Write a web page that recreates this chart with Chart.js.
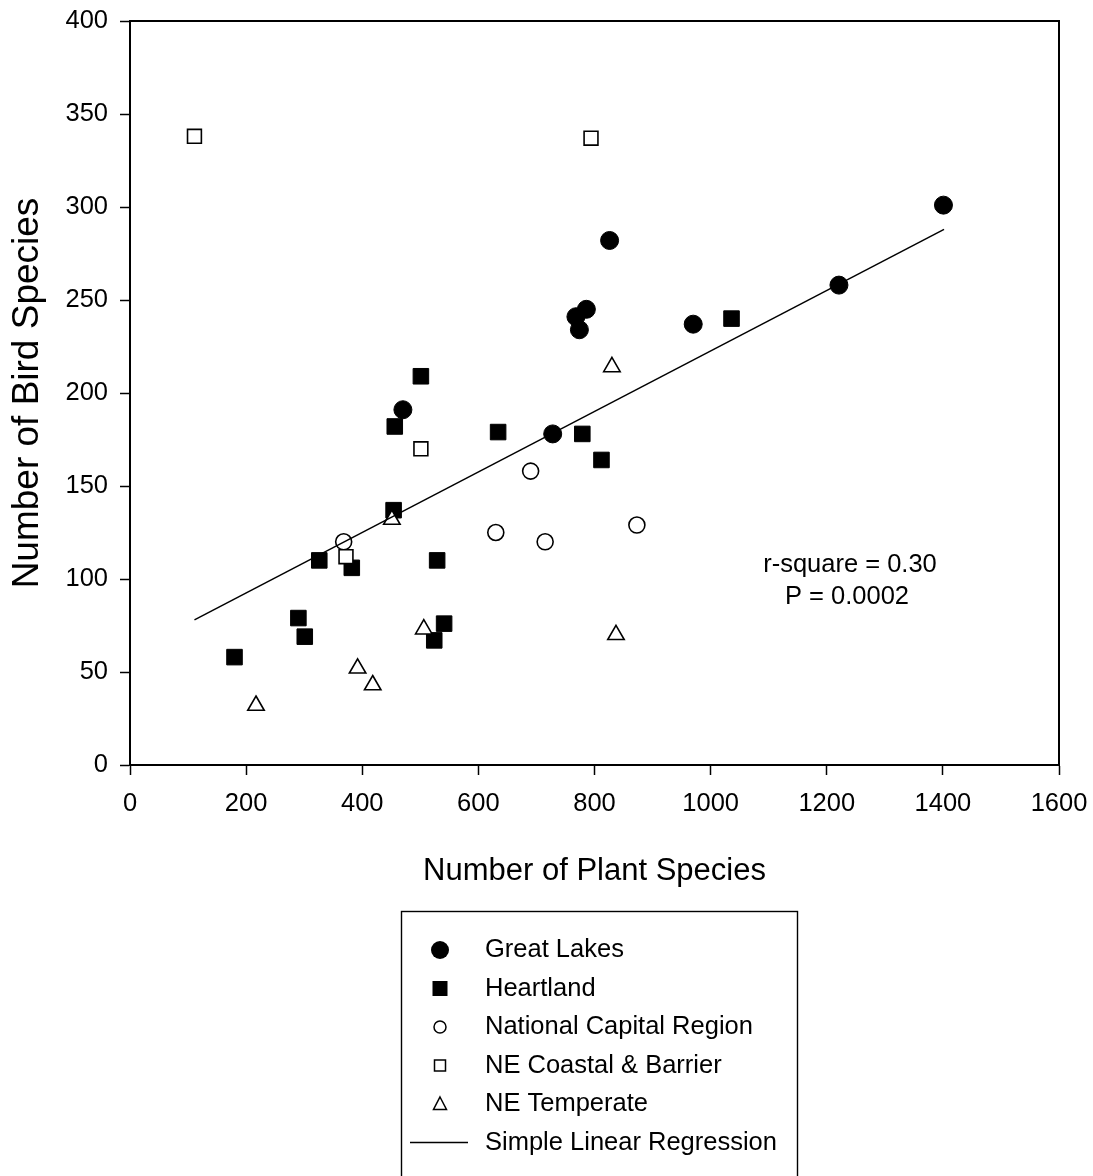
<!DOCTYPE html>
<html>
<head>
<meta charset="utf-8">
<script src="https://cdn.jsdelivr.net/npm/chart.js@4/dist/chart.umd.min.js"></script>
<style>
  html, body { margin: 0; padding: 0; background: #fff; }
  #wrap { width: 1093px; height: 1176px; position: relative; }
</style>
</head>
<body>
<div id="wrap"><canvas id="c" width="1093" height="1176"></canvas></div>
<script>
// ---- Data ----
const seriesNames = ["Great Lakes", "Heartland", "National Capital Region", "NE Coastal & Barrier", "NE Temperate"];
const regressionName = "Simple Linear Regression";

const plantGreatLakes = [1401, 1221, 826, 786, 768, 774, 970, 470, 728];
const birdGreatLakes  = [301, 258, 282, 245, 241, 234, 237, 191, 178];

const plantHeartland = [501, 456, 634, 779, 812, 1036, 454, 326, 382, 529, 290, 301, 180, 541, 524];
const birdHeartland  = [209, 182, 179, 178, 164, 240, 137, 110, 106, 110, 79, 69, 58, 76, 67];

const plantNCR = [368, 690, 630, 715, 873];
const birdNCR  = [120, 158, 125, 120, 129];

const plantCoastal = [111, 794, 501, 372];
const birdCoastal  = [338, 337, 170, 112];

const plantTemperate = [830, 451, 506, 392, 418, 217, 837];
const birdTemperate  = [214, 132, 73, 52, 43, 32, 70];

const regressionPlant = [111, 1402];
const regressionBird  = [78, 288];

const xTicks = [0, 200, 400, 600, 800, 1000, 1200, 1400, 1600];
const yTicks = [0, 50, 100, 150, 200, 250, 300, 350, 400];

const statLines = ["r-square = 0.30", "P = 0.0002"];

// ---- helpers ----
function pts(xs, ys) { return xs.map((x, i) => ({ x: x, y: ys[i] })); }
const FONT = "'Liberation Sans', Arial, 'DejaVu Sans', sans-serif";

const boxPlugin = {
  id: 'boxPlugin',
  beforeDatasetsDraw(chart) {
    const { ctx, chartArea: a } = chart;
    ctx.save();
    ctx.strokeStyle = '#000';
    ctx.lineWidth = 2;
    ctx.strokeRect(a.left, a.top, a.right - a.left, a.bottom - a.top);
    ctx.restore();
  },
  afterDraw(chart) {
    const { ctx } = chart;
    const xs = chart.scales.x, ys = chart.scales.y;
    ctx.save();
    ctx.fillStyle = '#000';
    ctx.font = '25.5px ' + FONT;
    ctx.textAlign = 'center';
    ctx.textBaseline = 'middle';
    const sx = xs.getPixelForValue(1240);
    ctx.fillText(statLines[0], sx, ys.getPixelForValue(107.6));
    ctx.fillText(statLines[1], sx - 3, ys.getPixelForValue(90.4));

    // legend box
    const L = 401.5, T = 911.5, R = 797.5;
    ctx.lineWidth = 1.4;
    ctx.strokeStyle = '#000';
    ctx.strokeRect(L, T, R - L, 400);
    const mx = 440, tx = 485, y0 = 950, dy = 38.5;
    ctx.textAlign = 'left';
    ctx.font = '25.5px ' + FONT;
    const labels = seriesNames.concat([regressionName]);
    labels.forEach((lab, i) => {
      const y = y0 + i * dy;
      ctx.fillStyle = '#000';
      ctx.fillText(lab, tx, y);
      ctx.lineWidth = 1.5;
      ctx.strokeStyle = '#000';
      ctx.beginPath();
      if (i === 0) { ctx.arc(mx, y, 9, 0, Math.PI * 2); ctx.fillStyle = '#000'; ctx.fill(); }
      else if (i === 1) { ctx.fillStyle = '#000'; ctx.fillRect(mx - 7.5, y - 7.5, 15, 15); }
      else if (i === 2) { ctx.arc(mx, y, 6, 0, Math.PI * 2); ctx.stroke(); }
      else if (i === 3) { ctx.strokeRect(mx - 5.5, y - 5.5, 11, 11); }
      else if (i === 4) { ctx.moveTo(mx, y - 7); ctx.lineTo(mx + 6.5, y + 5.5); ctx.lineTo(mx - 6.5, y + 5.5); ctx.closePath(); ctx.stroke(); }
      else { ctx.moveTo(410, y); ctx.lineTo(468, y); ctx.stroke(); }
    });
    ctx.restore();
  }
};

const black = '#000';
const chart = new Chart(document.getElementById('c'), {
  type: 'scatter',
  data: {
    datasets: [
      { label: regressionName, type: 'line', data: pts(regressionPlant, regressionBird), borderColor: black, borderWidth: 1.5, pointRadius: 0, fill: false, order: 0 },
      { label: seriesNames[0], data: pts(plantGreatLakes, birdGreatLakes), pointStyle: 'circle', pointRadius: 9, backgroundColor: black, borderColor: black, borderWidth: 1, order: 5 },
      { label: seriesNames[1], data: pts(plantHeartland, birdHeartland), pointStyle: 'rect', pointRadius: 11, backgroundColor: black, borderColor: black, borderWidth: 1, order: 4 },
      { label: seriesNames[2], data: pts(plantNCR, birdNCR), pointStyle: 'circle', pointRadius: 8, backgroundColor: '#fff', borderColor: black, borderWidth: 1.6, order: 3 },
      { label: seriesNames[3], data: pts(plantCoastal, birdCoastal), pointStyle: 'rect', pointRadius: 9.8, backgroundColor: '#fff', borderColor: black, borderWidth: 1.6, order: 2 },
      { label: seriesNames[4], data: pts(plantTemperate, birdTemperate), pointStyle: 'triangle', pointRadius: 9.5, backgroundColor: '#fff', borderColor: black, borderWidth: 1.6, order: 1 }
    ]
  },
  options: {
    responsive: false,
    devicePixelRatio: 1,
    animation: false,
    events: [],
    layout: { padding: { left: 0, right: 34, top: 21, bottom: 261 } },
    plugins: { legend: { display: false }, tooltip: { enabled: false } },
    scales: {
      x: {
        type: 'linear', min: 0, max: 1600,
        afterFit(s) { s.height = 150; s.paddingLeft = 0; s.paddingRight = 0; },
        afterBuildTicks(s) { s.ticks = xTicks.map(v => ({ value: v })); },
        ticks: { color: black, padding: 14, font: { family: FONT, size: 25.5 }, callback: v => String(v) },
        grid: { display: true, drawOnChartArea: false, drawTicks: true, tickLength: 10, tickWidth: 1.5, tickColor: black, color: black },
        border: { display: true, color: black, width: 2 },
        title: { display: true, text: 'Number of Plant Species', color: black, font: { family: FONT, size: 31 }, padding: { top: 0, bottom: 25 } }
      },
      y: {
        type: 'linear', min: 0, max: 400,
        afterFit(s) { s.width = 130; s.paddingTop = 0; s.paddingBottom = 0; },
        afterBuildTicks(s) { s.ticks = yTicks.map(v => ({ value: v })); },
        ticks: { color: black, padding: 12, font: { family: FONT, size: 25.5 }, callback: v => String(v) },
        grid: { display: true, drawOnChartArea: false, drawTicks: true, tickLength: 10, tickWidth: 1.5, tickColor: black, color: black },
        border: { display: true, color: black, width: 2 },
        title: { display: true, text: 'Number of Bird Species', color: black, font: { family: FONT, size: 37 }, padding: { top: 6, bottom: 0 } }
      }
    }
  },
  plugins: [boxPlugin]
});
</script>
</body>
</html>
